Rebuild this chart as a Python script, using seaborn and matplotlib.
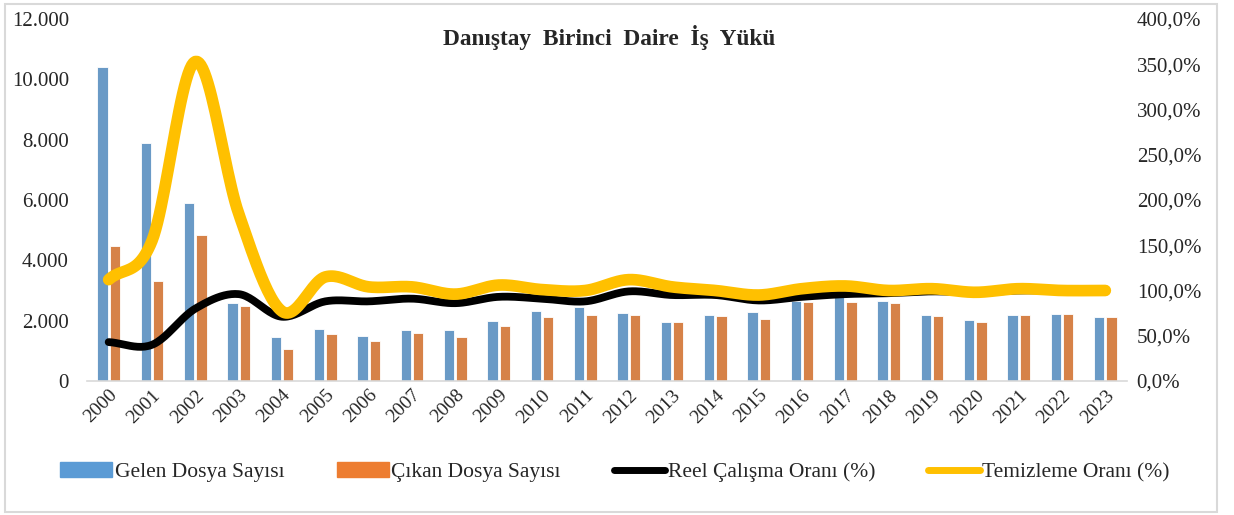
#!/usr/bin/env python3
"""
Danıştay Birinci Daire iş yükü: gelen / çıkan dosya sayısı (çubuk) ve oranlar (çizgi).
"""
import numpy as np
import pandas as pd
import matplotlib
matplotlib.use('Agg')
import matplotlib.pyplot as plt
from matplotlib.patches import Patch, Rectangle
from matplotlib.lines import Line2D
from matplotlib.ticker import FuncFormatter
import seaborn as sns

# Data
years = [str(y) for y in range(2000, 2024)]
gelen = [10400, 7900, 5900, 2590, 1460, 1720, 1500, 1690, 1690, 1990, 2320, 2440,
         2240, 1960, 2180, 2290, 2650, 2800, 2660, 2180, 2030, 2180, 2220, 2110]
cikan = [4480, 3330, 4830, 2490, 1060, 1550, 1330, 1580, 1470, 1810, 2110, 2180,
         2180, 1960, 2140, 2070, 2620, 2630, 2600, 2140, 1960, 2180, 2220, 2110]
reel = [43, 40, 80, 96, 71, 88, 88, 91, 86, 93, 91, 88,
        99, 95, 95, 89, 93, 96, 97, 99, 98, 100, 100, 100]
temizleme = [112, 155, 353, 185, 77, 115, 104, 104, 96, 106, 101, 100,
             112, 104, 100, 95, 102, 105, 100, 102, 98, 102, 100, 100]

BLUE = '#5B9BD5'
ORANGE = '#ED7D31'
BLACK = '#000000'
YELLOW = '#FFC000'

sns.set_style("white")
plt.rcParams['font.family'] = ['Liberation Serif', 'DejaVu Serif']


def smooth(x, y, n=24):
    """Catmull-Rom curve through the points, like Excel's smoothed line."""
    x = np.asarray(x, float)
    y = np.asarray(y, float)
    px = np.concatenate([[2 * x[0] - x[1]], x, [2 * x[-1] - x[-2]]])
    py = np.concatenate([[2 * y[0] - y[1]], y, [2 * y[-1] - y[-2]]])
    xs, ys = [], []
    t = np.linspace(0, 1, n, endpoint=False)
    for i in range(1, len(px) - 2):
        for p, out in ((px, xs), (py, ys)):
            p0, p1, p2, p3 = p[i - 1], p[i], p[i + 1], p[i + 2]
            out.extend(0.5 * (2 * p1 + (-p0 + p2) * t
                              + (2 * p0 - 5 * p1 + 4 * p2 - p3) * t ** 2
                              + (-p0 + 3 * p1 - 3 * p2 + p3) * t ** 3))
    xs.append(x[-1])
    ys.append(y[-1])
    return np.array(xs), np.array(ys)


df = pd.DataFrame({'Yıl': years * 2,
                   'Sayı': gelen + cikan,
                   'Seri': ['Gelen Dosya Sayısı'] * len(years) + ['Çıkan Dosya Sayısı'] * len(years)})

fig = plt.figure(figsize=(12.34, 5.15), dpi=100)
ax = fig.add_axes([87 / 1234, 1 - 381 / 515, (1127 - 87) / 1234, (381 - 19) / 515])

sns.barplot(data=df, x='Yıl', y='Sayı', hue='Seri', palette=[BLUE, ORANGE],
            width=0.56, gap=0.15, ax=ax, legend=False, edgecolor='white', linewidth=0.6)
ax.set_xlim(-0.5, len(years) - 0.5)
ax.set_ylim(0, 12000)
ax.set_yticks(range(0, 12001, 2000))
ax.yaxis.set_major_formatter(FuncFormatter(lambda v, p: f'{int(v):,}'.replace(',', '.')))
ax.set_xlabel('')
ax.set_ylabel('')
ax.tick_params(axis='y', labelsize=15, length=0, pad=13)
ax.tick_params(axis='x', labelsize=14, length=0, pad=4)
for lbl in ax.get_xticklabels():
    lbl.set_rotation(45)
    lbl.set_ha('right')
    lbl.set_rotation_mode('anchor')
for s in ['top', 'right', 'left']:
    ax.spines[s].set_visible(False)
ax.spines['bottom'].set_color('#D9D9D9')
ax.spines['bottom'].set_linewidth(1.2)

ax2 = ax.twinx()
pos = np.arange(len(years))
for vals, col, lw in ((reel, BLACK, 5.6), (temizleme, YELLOW, 8.4)):
    sx, sy = smooth(pos, np.array(vals) / 100.0)
    sns.lineplot(x=sx, y=sy, ax=ax2, color=col, linewidth=lw, sort=False,
                 estimator=None, solid_capstyle='round')
ax2.set_ylim(0, 4.0)
ax2.set_yticks(np.arange(0, 4.01, 0.5))
ax2.yaxis.set_major_formatter(FuncFormatter(lambda v, p: f'{v * 100:.1f}%'.replace('.', ',')))
ax2.tick_params(axis='y', labelsize=15, length=0, pad=7)
for s in ['top', 'right', 'left', 'bottom']:
    ax2.spines[s].set_visible(False)

fig.text(0.494, 1 - 37 / 515, 'Danıştay  Birinci  Daire  İş  Yükü', ha='center', va='center',
         fontsize=16.8, fontweight='bold')

handles = [Patch(color=BLUE), Patch(color=ORANGE),
           Line2D([], [], color=BLACK, lw=5, solid_capstyle='round'),
           Line2D([], [], color=YELLOW, lw=5, solid_capstyle='round')]
labels = ['Gelen Dosya Sayısı', 'Çıkan Dosya Sayısı', 'Reel Çalışma Oranı (%)', 'Temizleme Oranı (%)']
fig.legend(handles, labels, loc='center', bbox_to_anchor=(0.4985, 1 - 472 / 515), ncol=4,
           frameon=False, fontsize=15.5, handlelength=2.4, handletextpad=0.12,
           columnspacing=2.45)

fig.add_artist(Rectangle((5 / 1234, 3 / 515), 1212 / 1234, 508 / 515, transform=fig.transFigure,
                         fill=False, edgecolor='#D9D9D9', linewidth=1.5))

fig.savefig('out.png', dpi=100)
plt.close('all')
